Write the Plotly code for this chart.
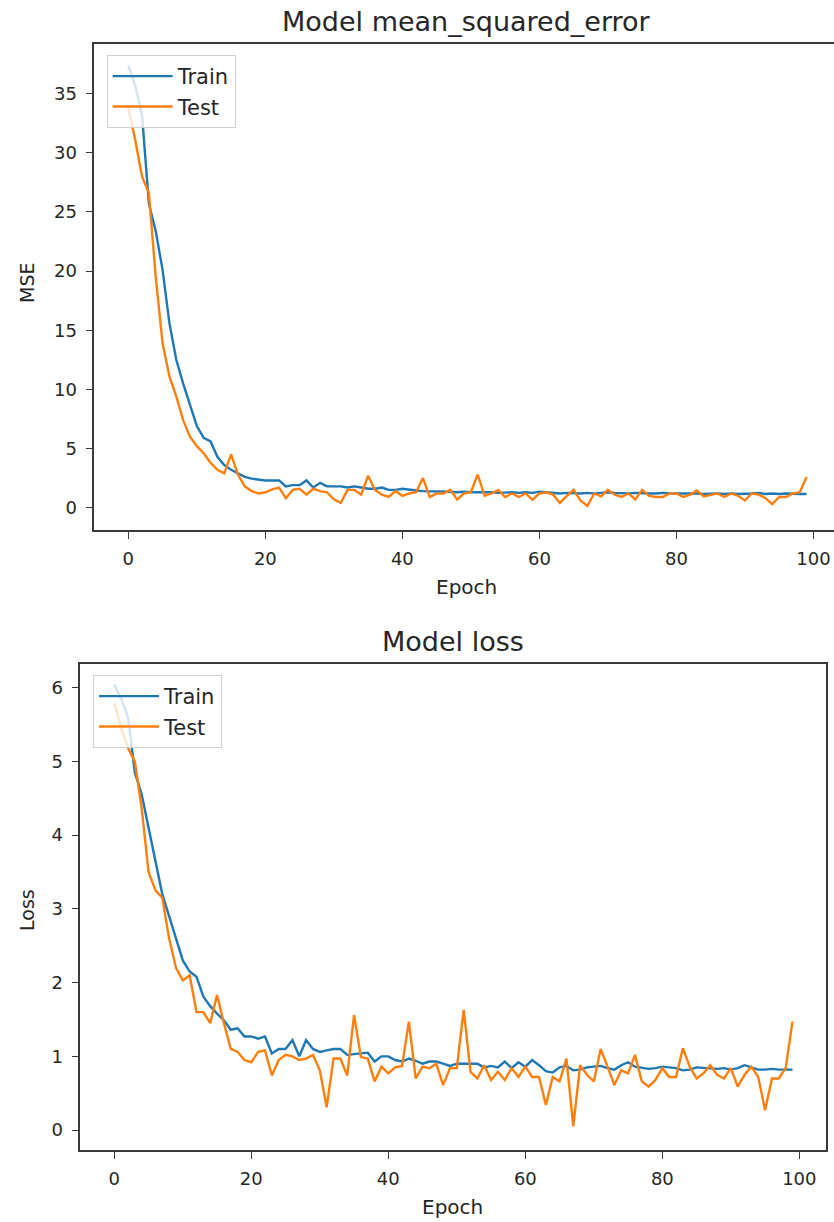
import plotly.graph_objects as go

epochs = list(range(100))

mse_train = [37.4, 35.7, 33.2, 25.7, 23.4, 20.1, 15.6, 12.5, 10.5, 8.6,
             6.9, 5.9, 5.6, 4.3, 3.6, 3.2, 2.9, 2.6, 2.45, 2.35,
             2.3, 2.3, 2.3, 1.8, 1.9, 1.9, 2.3, 1.7, 2.1, 1.8,
             1.8, 1.8, 1.7, 1.8, 1.7, 1.6, 1.6, 1.7, 1.5, 1.5,
             1.6, 1.5, 1.45, 1.4, 1.4, 1.35, 1.4, 1.35, 1.3, 1.35,
             1.3, 1.3, 1.35, 1.3, 1.25, 1.3, 1.3, 1.25, 1.3, 1.25,
             1.35, 1.3, 1.25, 1.2, 1.25, 1.2, 1.2, 1.25, 1.2, 1.25,
             1.3, 1.25, 1.2, 1.2, 1.25, 1.2, 1.2, 1.2, 1.25, 1.2,
             1.2, 1.25, 1.2, 1.2, 1.15, 1.2, 1.2, 1.15, 1.2, 1.15,
             1.15, 1.2, 1.25, 1.15, 1.2, 1.15, 1.2, 1.15, 1.15, 1.15]

mse_test = [33.8, 31.1, 28.0, 26.6, 19.5, 13.9, 11.1, 9.4, 7.4, 6.0,
            5.2, 4.6, 3.8, 3.2, 2.9, 4.5, 2.8, 1.8, 1.4, 1.2,
            1.3, 1.55, 1.7, 0.8, 1.5, 1.6, 1.1, 1.6, 1.4, 1.3,
            0.7, 0.4, 1.5, 1.5, 1.1, 2.7, 1.5, 1.1, 0.9, 1.4,
            1.0, 1.2, 1.3, 2.5, 0.9, 1.2, 1.2, 1.5, 0.7, 1.2,
            1.3, 2.8, 1.0, 1.2, 1.5, 0.9, 1.2, 0.9, 1.2, 0.65,
            1.2, 1.3, 1.1, 0.4, 1.0, 1.5, 0.6, 0.15, 1.2, 0.95,
            1.5, 1.1, 0.9, 1.2, 0.7, 1.5, 1.0, 0.9, 0.9, 1.2,
            1.2, 0.9, 1.1, 1.45, 0.95, 1.1, 1.2, 0.9, 1.2, 1.0,
            0.6, 1.2, 1.1, 0.8, 0.3, 0.9, 0.9, 1.2, 1.3, 2.6]

loss_train = [6.04, 5.85, 5.6, 4.85, 4.55, 4.1, 3.6, 3.2, 2.9, 2.6,
              2.3, 2.15, 2.08, 1.81, 1.68, 1.58, 1.49, 1.36, 1.38, 1.27,
              1.27, 1.24, 1.27, 1.04, 1.1, 1.1, 1.22, 1.0, 1.22, 1.1,
              1.06, 1.08, 1.1, 1.1, 1.02, 1.03, 1.04, 1.05, 0.93, 1.0,
              1.0, 0.95, 0.93, 0.97, 0.94, 0.9, 0.93, 0.93, 0.9, 0.87,
              0.9, 0.9, 0.9, 0.9, 0.85, 0.87, 0.85, 0.93, 0.84, 0.92,
              0.86, 0.95, 0.88, 0.8, 0.78, 0.85, 0.87, 0.81, 0.82, 0.85,
              0.86, 0.87, 0.84, 0.82, 0.88, 0.92, 0.86, 0.84, 0.83, 0.84,
              0.86, 0.85, 0.84, 0.81, 0.82, 0.85, 0.84, 0.83, 0.83, 0.84,
              0.82, 0.84, 0.88, 0.85, 0.82, 0.82, 0.83, 0.82, 0.82, 0.82]

loss_test = [5.79, 5.45, 5.18, 5.0, 4.36, 3.5, 3.25, 3.15, 2.6, 2.2,
             2.03, 2.1, 1.6, 1.6, 1.45, 1.83, 1.45, 1.1, 1.06, 0.95,
             0.92, 1.06, 1.08, 0.74, 0.95, 1.02, 1.0, 0.95, 0.97, 1.02,
             0.81, 0.31, 0.97, 0.97, 0.74, 1.56, 0.99, 0.97, 0.66, 0.86,
             0.77, 0.85, 0.87, 1.47, 0.7, 0.86, 0.84, 0.9, 0.61, 0.84,
             0.84, 1.63, 0.79, 0.7, 0.88, 0.68, 0.79, 0.68, 0.84, 0.72,
             0.86, 0.72, 0.72, 0.34, 0.72, 0.66, 0.97, 0.05, 0.88, 0.75,
             0.66, 1.1, 0.86, 0.61, 0.81, 0.77, 1.02, 0.66, 0.59, 0.68,
             0.84, 0.72, 0.72, 1.11, 0.86, 0.7, 0.77, 0.88, 0.75, 0.7,
             0.84, 0.59, 0.75, 0.86, 0.72, 0.27, 0.7, 0.7, 0.84, 1.47]

x_ticks = [0, 20, 40, 60, 80, 100]
mse_ticks = [0, 5, 10, 15, 20, 25, 30, 35]
loss_ticks = [0, 1, 2, 3, 4, 5, 6]

BLUE = "#1f77b4"
ORANGE = "#ff7f0e"
FONT = "DejaVu Sans"
TXT = "#262626"
W, H = 834, 1222

fig = go.Figure()
fig.add_trace(go.Scatter(x=epochs, y=mse_train, mode="lines", name="Train",
                         line=dict(color=BLUE, width=2.4), xaxis="x", yaxis="y", legend="legend"))
fig.add_trace(go.Scatter(x=epochs, y=mse_test, mode="lines", name="Test",
                         line=dict(color=ORANGE, width=2.4), xaxis="x", yaxis="y", legend="legend"))
fig.add_trace(go.Scatter(x=epochs, y=loss_train, mode="lines", name="Train",
                         line=dict(color=BLUE, width=2.4), xaxis="x2", yaxis="y2", legend="legend2"))
fig.add_trace(go.Scatter(x=epochs, y=loss_test, mode="lines", name="Test",
                         line=dict(color=ORANGE, width=2.4), xaxis="x2", yaxis="y2", legend="legend2"))

axis_common = dict(showgrid=False, zeroline=False, showline=True, linecolor="#3a3a3a",
                   linewidth=1.6, ticks="outside", ticklen=7, tickwidth=1.3, automargin=False,
                   tickcolor="#3a3a3a", tickfont=dict(family=FONT, size=18, color=TXT))

def px_x(p):
    return p / W

def px_y(p):
    return 1 - p / H

fig.update_layout(
    template="none",
    width=W, height=H,
    margin=dict(l=0, r=0, t=0, b=0, autoexpand=False),
    paper_bgcolor="white", plot_bgcolor="white",
    font=dict(family=FONT, color=TXT),
    xaxis=dict(axis_common, domain=[px_x(94.4), 1.0], range=[-4.95, 103.0],
               tickvals=x_ticks, mirror=True, anchor="y", ticklabelstandoff=5),
    yaxis=dict(axis_common, domain=[px_y(530), px_y(44)], range=[-1.89, 39.2],
               tickvals=mse_ticks, mirror=False, anchor="x", ticklabelstandoff=5),
    xaxis2=dict(axis_common, domain=[px_x(80.4), px_x(826.4)], range=[-4.95, 103.95],
                tickvals=x_ticks, mirror=True, anchor="y2", ticklabelstandoff=5),
    yaxis2=dict(axis_common, domain=[px_y(1150), px_y(664)], range=[-0.27, 6.32],
                tickvals=loss_ticks, mirror=True, anchor="x2", ticklabelstandoff=5),
    legend=dict(x=px_x(106.7), y=px_y(55), xanchor="left", yanchor="top",
                bgcolor="rgba(255,255,255,0.8)", bordercolor="#d0d0d0", borderwidth=1,
                font=dict(family=FONT, size=21, color=TXT), itemwidth=60),
    legend2=dict(x=px_x(93), y=px_y(675), xanchor="left", yanchor="top",
                 bgcolor="rgba(255,255,255,0.8)", bordercolor="#d0d0d0", borderwidth=1,
                 font=dict(family=FONT, size=21, color=TXT), itemwidth=60),
    showlegend=True,
)

annotations = [
    dict(text="Model mean_squared_error", x=px_x(467), y=px_y(22), size=27),
    dict(text="Model loss", x=px_x(453), y=px_y(641), size=27),
    dict(text="Epoch", x=px_x(467), y=px_y(587), size=20),
    dict(text="Epoch", x=px_x(453), y=px_y(1207), size=20),
]
for a in annotations:
    fig.add_annotation(text=a["text"], x=a["x"], y=a["y"], xref="paper", yref="paper",
                       xanchor="center", yanchor="middle", showarrow=False,
                       font=dict(family=FONT, size=a["size"], color=TXT))
for txt, yc in [("MSE", 283), ("Loss", 910)]:
    fig.add_annotation(text=txt, x=px_x(27), y=px_y(yc), xref="paper", yref="paper",
                       xanchor="center", yanchor="middle", showarrow=False, textangle=-90,
                       font=dict(family=FONT, size=19, color=TXT))

fig.write_html("out.html", config={"displayModeBar": False},
               post_script="document.body.style.margin='0px';document.body.style.overflow='hidden';")
